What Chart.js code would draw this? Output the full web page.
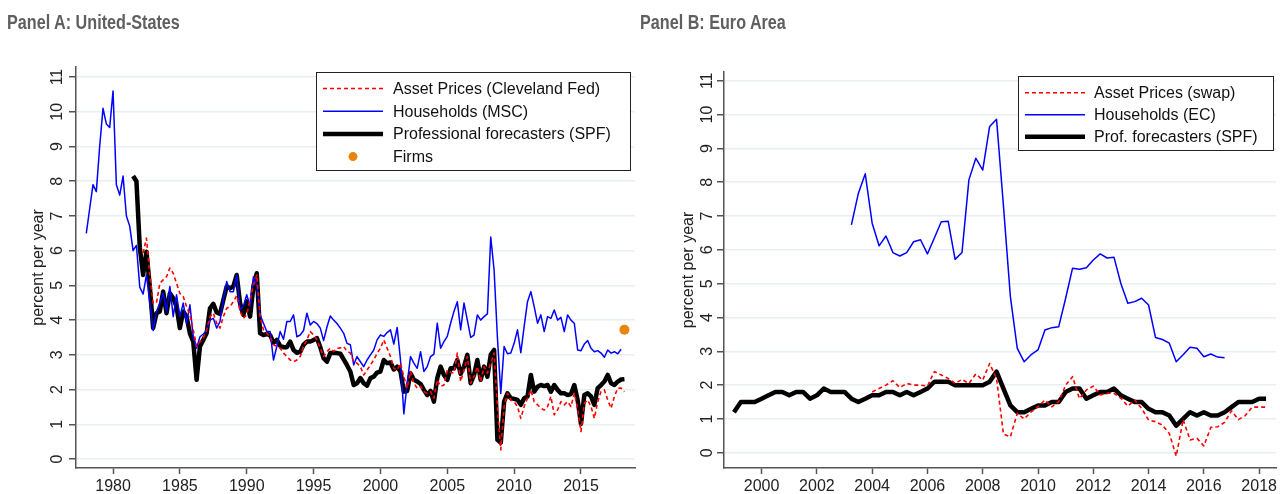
<!DOCTYPE html>
<html>
<head>
<meta charset="utf-8">
<script src="https://cdn.jsdelivr.net/npm/chart.js@4.4.0/dist/chart.umd.min.js"></script>
<style>
body { margin: 0; background: #fff; width: 1280px; height: 494px; overflow: hidden; position: relative; font-family: "Liberation Sans", Arial, sans-serif; }
.panel { position: absolute; top: 0; width: 640px; height: 494px; }
.title { position: absolute; top: 11px; font-weight: bold; font-size: 20px; color: #5f5f5f; transform-origin: 0 0; white-space: nowrap; }
</style>
</head>
<body>
<div class="panel" style="left:0"><canvas id="chartA" width="640" height="494"></canvas></div>
<div class="panel" style="left:640px"><canvas id="chartB" width="640" height="494"></canvas></div>
<div class="title" id="titleA" style="left:7px">Panel A: United-States</div>
<div class="title" id="titleB" style="left:640px">Panel B: Euro Area</div>
<script>
// tick labels
const yTicks = [0, 1, 2, 3, 4, 5, 6, 7, 8, 9, 10, 11];
const xTicksA = [1980, 1985, 1990, 1995, 2000, 2005, 2010, 2015];
const xTicksB = [2000, 2002, 2004, 2006, 2008, 2010, 2012, 2014, 2016, 2018];

// Panel A: United States, quarterly series (first quarter given)
const usMscStart = '1978Q1';
const usMsc = [6.5, 7.2, 7.9, 7.7, 9.0, 10.1, 9.65, 9.55, 10.6, 7.9, 7.6, 8.15, 7.0, 6.7, 6.0, 6.15,
  4.95, 4.75, 5.3, 4.5, 3.7, 4.25, 4.5, 4.77, 4.25, 4.97, 4.1, 4.73, 4.1, 4.49, 3.91, 4.44,
  3.52, 3.19, 3.52, 3.6, 3.7, 4.0, 4.05, 3.77, 3.96, 4.6, 5.11, 4.82, 4.82, 5.3, 4.29, 4.4,
  4.73, 4.39, 5.25, 5.0, 4.15, 3.91, 3.67, 3.67, 2.85, 3.24, 3.67, 3.45, 3.96, 3.96, 4.15, 3.52,
  3.57, 3.7, 4.2, 3.86, 3.96, 3.9, 3.77, 3.41, 3.8, 4.12, 4.0, 3.9, 3.77, 3.62, 3.33, 3.29,
  2.71, 2.95, 2.8, 2.66, 2.85, 3.0, 3.14, 3.43, 3.57, 3.53, 3.64, 3.72, 3.31, 3.79, 2.85, 1.3,
  2.18, 2.95, 2.76, 2.61, 3.09, 2.52, 2.66, 2.95, 3.02, 3.91, 3.19, 3.38, 3.53, 3.91, 4.25, 4.53,
  3.72, 4.49, 4.0, 3.5, 3.57, 4.15, 4.0, 4.1, 4.18, 6.39, 5.45, 3.5, 1.89, 3.24, 3.03, 3.05,
  3.33, 3.72, 3.06, 3.82, 4.53, 4.82, 4.39, 3.91, 4.15, 3.67, 4.1, 4.05, 4.29, 4.0, 4.08, 3.67,
  4.15, 4.0, 3.91, 3.14, 3.12, 3.31, 3.41, 3.19, 3.09, 3.12, 3.05, 2.93, 3.14, 3.05, 3.09, 3.03,
  3.16];

const usSpfStart = '1981Q3';
const usSpf = [8.15, 8.0,
  6.1, 5.3, 5.97, 4.97, 3.77, 4.2, 4.25, 4.82, 4.2, 4.77, 4.63, 4.39, 3.77, 4.25, 4.1, 3.62,
  3.38, 2.28, 3.24, 3.43, 3.62, 4.34, 4.47, 4.22, 4.18, 4.58, 4.97, 4.92, 4.97, 5.3, 4.49, 4.15,
  4.54, 4.1, 4.97, 5.35, 3.62, 3.57, 3.6, 3.57, 3.35, 3.43, 3.26, 3.22, 3.22, 3.38, 3.14, 3.06,
  3.09, 3.29, 3.38, 3.38, 3.43, 3.48, 3.22, 2.9, 2.8, 3.05, 3.05, 3.05, 3.03, 2.87, 2.7, 2.52,
  2.13, 2.18, 2.33, 2.18, 2.11, 2.33, 2.37, 2.49, 2.52, 2.85, 2.76, 2.78, 2.58, 2.66, 2.52, 1.94,
  1.96, 2.47, 2.28, 2.23, 2.16, 1.99, 1.84, 1.96, 1.65, 2.33, 2.66, 2.42, 2.28, 2.61, 2.61, 2.85,
  2.45, 2.66, 3.0, 2.18, 2.42, 2.85, 2.28, 2.66, 2.37, 3.0, 3.14, 0.55, 0.47, 1.65, 1.89, 1.75,
  1.73, 1.7, 1.56, 1.75, 1.8, 2.42, 1.94, 2.08, 2.13, 2.1, 2.13, 1.94, 2.13, 1.99, 1.89, 1.89,
  1.84, 1.87, 2.13, 1.7, 1.01, 1.84, 1.89, 1.8, 1.56, 2.04, 2.13, 2.23, 2.42, 2.18, 2.13, 2.23,
  2.29, 2.3];

const usClevStart = '1982Q2';
const usClev = [5.93, 6.36, 5.3,
  4.49, 4.5, 5.06, 5.16, 5.25, 5.5, 5.35, 5.06, 4.77, 4.68, 4.39, 4.15,
  3.72, 3.24, 3.38, 3.48, 3.72, 4.1, 4.2, 3.91, 3.77, 4.1, 4.34, 4.39, 4.53, 4.7, 4.25, 4.05,
  4.15, 4.58, 5.01, 5.3, 4.1, 3.72, 3.62, 3.52, 3.29, 3.24, 3.19, 3.05, 2.95, 2.85, 2.8, 2.85,
  2.95, 3.24, 3.43, 3.67, 3.57, 3.43, 3.19, 2.95, 3.09, 3.19, 3.1, 3.19, 3.2, 3.24, 3.1, 3.05,
  2.8, 2.76, 2.66, 2.42, 2.56, 2.71, 2.85, 3.05, 3.19, 3.43, 3.19, 2.95, 2.61, 2.56, 2.76, 2.37,
  2.04, 2.52, 2.18, 2.04, 2.09, 1.94, 1.89, 1.94, 1.75, 2.28, 2.09, 2.13, 2.56, 2.5, 2.47, 3.05,
  2.23, 2.56, 2.95, 2.18, 2.37, 2.66, 2.23, 2.66, 2.47, 2.76, 3.05, 1.51, 0.26, 1.51, 1.89, 1.7,
  1.65, 1.51, 1.17, 1.51, 1.75, 1.99, 1.65, 1.56, 1.46, 1.41, 1.51, 1.8, 1.27, 1.41, 1.65, 1.56,
  1.65, 1.51, 1.89, 1.46, 0.79, 1.6, 1.7, 1.51, 1.17, 1.65, 1.94, 1.99, 1.7, 1.46, 1.8, 2.04,
  2.04, 1.94];

const usFirmsDate = '2018Q2';
const usFirms = [3.72];

// Panel B: Euro Area
const eaSpfStart = '1999Q1';
const eaSpf = [1.2, 1.5, 1.5, 1.5, 1.6, 1.7, 1.8, 1.8, 1.7, 1.8, 1.8, 1.6, 1.7, 1.9, 1.8, 1.8,
  1.8, 1.6, 1.5, 1.6, 1.7, 1.7, 1.8, 1.8, 1.7, 1.8, 1.7, 1.8, 1.9, 2.1, 2.1, 2.1,
  2.0, 2.0, 2.0, 2.0, 2.0, 2.1, 2.4, 1.9, 1.4, 1.2, 1.2, 1.3, 1.4, 1.4, 1.5, 1.5,
  1.8, 1.9, 1.9, 1.6, 1.7, 1.8, 1.8, 1.9, 1.7, 1.6, 1.5, 1.5, 1.3, 1.2, 1.2, 1.1,
  0.8, 1.0, 1.2, 1.1, 1.2, 1.1, 1.1, 1.2, 1.35, 1.5, 1.5, 1.5, 1.6, 1.6];

const eaEcStart = '2003Q2';
const eaEc = [6.74, 7.67, 8.25, 6.79, 6.12, 6.41, 5.92, 5.82, 5.92, 6.24, 6.3, 5.88, 6.35, 6.83, 6.85,
  5.72, 5.92, 8.07, 8.71, 8.36, 9.65, 9.86, 7.3, 4.62, 3.09, 2.69, 2.9, 3.04, 3.63, 3.7, 3.73,
  4.57, 5.46, 5.43, 5.47, 5.7, 5.88, 5.76, 5.78, 5.0, 4.42, 4.47, 4.57, 4.37, 3.41, 3.35, 3.24,
  2.69, 2.9, 3.12, 3.09, 2.84, 2.92, 2.83, 2.81];

const eaSwapStart = '2004Q1';
const eaSwap = [1.8, 1.9, 2.0, 2.13, 1.93, 2.05, 2.0, 2.0, 1.97, 2.4, 2.3, 2.2, 2.05, 2.17, 2.05, 2.33,
  2.15, 2.64, 2.2, 0.55, 0.47, 1.17, 1.0, 1.21, 1.36, 1.56, 1.36, 1.51, 2.0, 2.25, 1.6, 1.86,
  1.97, 1.71, 1.76, 1.76, 1.61, 1.38, 1.56, 1.31, 0.97, 0.92, 0.82, 0.57, -0.1, 0.98, 0.38, 0.43,
  0.2, 0.75, 0.77, 0.9, 1.24, 0.98, 1.1, 1.35, 1.35, 1.35];

// quarter label -> decimal year, then pair with the values
function qToYear(q) {
  return parseInt(q.slice(0, 4), 10) + (parseInt(q.slice(5), 10) - 1) / 4;
}
function toPoints(startQ, values) {
  const y0 = qToYear(startQ);
  return values.map((v, i) => ({ x: y0 + i / 4, y: v }));
}

const FONT = '"Liberation Sans", Arial, sans-serif';

const extras = {
  id: 'extras',
  afterDraw(chart, args, opts) {
    const ctx = chart.ctx;
    const area = chart.chartArea;
    const ys = chart.scales.y;
    ctx.save();
    ctx.fillStyle = '#222';
    ctx.font = '16px ' + FONT;
    ctx.textAlign = 'center';
    ctx.textBaseline = 'middle';
    yTicks.forEach(v => {
      ctx.save();
      ctx.translate(area.left - opts.tickOffset, ys.getPixelForValue(v));
      ctx.rotate(-Math.PI / 2);
      ctx.fillText(String(v), 0, 1);
      ctx.restore();
    });
    ctx.save();
    ctx.translate(area.left - opts.titleOffset, (area.top + area.bottom) / 2);
    ctx.rotate(-Math.PI / 2);
    ctx.fillText('percent per year', 0, 0);
    ctx.restore();

    // legend box
    const lg = opts.legend;
    ctx.fillStyle = '#fff';
    ctx.fillRect(lg.x0, lg.y0, lg.x1 - lg.x0, lg.y1 - lg.y0);
    ctx.strokeStyle = '#222';
    ctx.lineWidth = 1;
    ctx.strokeRect(lg.x0 + 0.5, lg.y0 + 0.5, lg.x1 - lg.x0, lg.y1 - lg.y0);
    chart.data.datasets.forEach((ds, i) => {
      const y = lg.rowY + i * lg.rowGap;
      if (ds.showLine === false) {
        ctx.fillStyle = ds.backgroundColor;
        ctx.beginPath();
        ctx.arc((lg.lineX0 + lg.lineX1) / 2, y, 4.5, 0, Math.PI * 2);
        ctx.fill();
      } else {
        ctx.strokeStyle = ds.borderColor;
        ctx.lineWidth = ds.borderWidth;
        ctx.setLineDash(ds.borderDash || []);
        ctx.beginPath();
        ctx.moveTo(lg.lineX0, y);
        ctx.lineTo(lg.lineX1, y);
        ctx.stroke();
        ctx.setLineDash([]);
      }
      ctx.fillStyle = '#111';
      ctx.textAlign = 'left';
      ctx.fillText(ds.label, lg.textX, y + 1);
    });
    ctx.restore();
  }
};

function lineSet(label, points, color, width, dash) {
  return {
    label: label, data: points, borderColor: color, backgroundColor: color,
    borderWidth: width, borderDash: dash, pointRadius: 0, tension: 0, fill: false,
    borderJoinStyle: 'round'
  };
}

function makeChart(id, datasets, cfg) {
  return new Chart(document.getElementById(id), {
    type: 'line',
    data: { datasets: datasets },
    options: {
      responsive: false,
      animation: false,
      devicePixelRatio: 1,
      layout: { padding: { left: 0, right: cfg.padRight, top: cfg.padTop, bottom: 0 } },
      plugins: { legend: { display: false }, tooltip: { enabled: false }, extras: cfg.extras },
      scales: {
        x: {
          type: 'linear', position: 'bottom', min: cfg.xMin, max: cfg.xMax,
          afterBuildTicks: s => { s.ticks = cfg.xTicks.map(v => ({ value: v })); },
          afterFit: s => { s.height = 494 - cfg.bottom; },
          ticks: { autoSkip: false, maxRotation: 0, minRotation: 0, padding: 3, color: '#222',
            font: { size: 16, family: FONT }, callback: v => String(v) },
          grid: { drawOnChartArea: false, drawTicks: true, tickLength: 6, tickColor: '#555', tickWidth: 1.5 },
          border: { display: true, color: '#555', width: 1.5 }
        },
        y: {
          type: 'linear', min: cfg.yMin, max: cfg.yMax,
          afterBuildTicks: s => { s.ticks = yTicks.map(v => ({ value: v })); },
          afterFit: s => { s.width = cfg.left; },
          ticks: { display: false },
          grid: { color: '#e8eff1', lineWidth: 1.5, drawTicks: true, tickLength: 7, tickColor: '#555', tickWidth: 1.5 },
          border: { display: true, color: '#555', width: 1.5 }
        }
      }
    },
    plugins: [extras]
  });
}

makeChart('chartA', [
  lineSet('Asset Prices (Cleveland Fed)', toPoints(usClevStart, usClev), '#ff0000', 1.6, [4, 3]),
  lineSet('Households (MSC)', toPoints(usMscStart, usMsc), '#0000ff', 1.5, []),
  lineSet('Professional forecasters (SPF)', toPoints(usSpfStart, usSpf), '#000000', 4.5, []),
  { label: 'Firms', data: toPoints(usFirmsDate, usFirms), showLine: false, pointRadius: 5,
    backgroundColor: '#e8850c', borderColor: '#e8850c', borderWidth: 0 }
], {
  left: 76, padRight: 5, padTop: 67, bottom: 468,
  xMin: 1977.23, xMax: 2019.04, xTicks: xTicksA, yMin: -0.26, yMax: 11.29,
  extras: { tickOffset: 19, titleOffset: 37,
    legend: { x0: 316, y0: 72, x1: 630, y1: 170, rowY: 88.5, rowGap: 22.7, lineX0: 323, lineX1: 383, textX: 393 } }
});

makeChart('chartB', [
  lineSet('Asset Prices (swap)', toPoints(eaSwapStart, eaSwap), '#ff0000', 1.6, [4, 3]),
  lineSet('Households (EC)', toPoints(eaEcStart, eaEc), '#0000ff', 1.5, []),
  lineSet('Prof. forecasters (SPF)', toPoints(eaSpfStart, eaSpf), '#000000', 4.5, [])
], {
  left: 84, padRight: 2, padTop: 72, bottom: 468,
  xMin: 1998.64, xMax: 2018.61, xTicks: xTicksB, yMin: -0.45, yMax: 11.26,
  extras: { tickOffset: 17, titleOffset: 35,
    legend: { x0: 378, y0: 76, x1: 633, y1: 150, rowY: 92.7, rowGap: 22, lineX0: 385, lineX1: 445, textX: 454 } }
});

// squeeze the panel titles to the condensed width of the original
const tA = document.getElementById('titleA');
const tB = document.getElementById('titleB');
const k = 173 / tA.offsetWidth;
tA.style.transform = 'scaleX(' + k + ')';
tB.style.transform = 'scaleX(' + k + ')';
</script>
</body>
</html>
